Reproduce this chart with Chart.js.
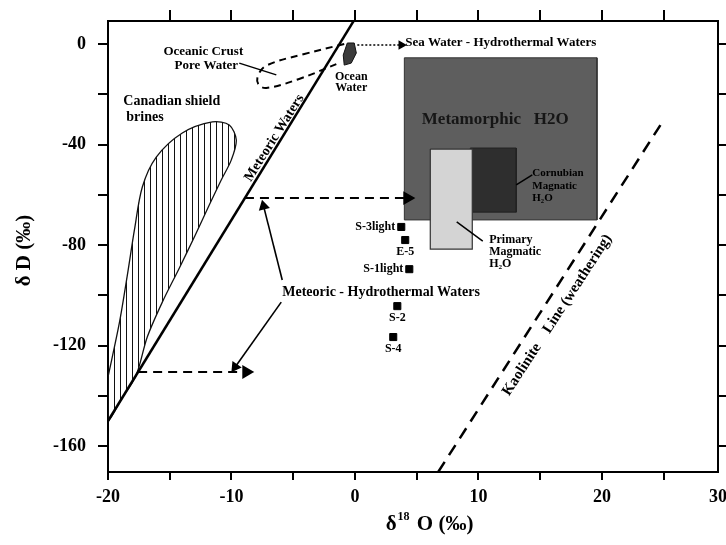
<!DOCTYPE html>
<html>
<head>
<meta charset="utf-8">
<script src="https://cdn.jsdelivr.net/npm/chart.js@4.4.1/dist/chart.umd.min.js"></script>
<style>
  html, body { margin: 0; padding: 0; background: #fff; }
</style>
</head>
<body>
<canvas id="iso" width="726" height="545"></canvas>
<script>
// axis ranges and ticks (δ18O on x, δD on y)
const X_MIN = -20, X_MAX = 29.4;
const Y_MIN = -170.3, Y_MAX = 9.15;
const X_TICKS = [-20, -15, -10, -5, 0, 5, 10, 15, 20, 25, 29.4];
const X_TOP_TICKS = [-15, -10, -5, 0, 5, 10, 15, 20, 25];
const Y_TICKS = [-160, -140, -120, -100, -80, -60, -40, -20, 0];

// samples
const SAMPLE_NAMES = ['S-3light', 'E-5', 'S-1light', 'S-2', 'S-4'];
const SAMPLE_O18 = [3.75, 4.07, 4.40, 3.43, 3.10];
const SAMPLE_DD = [-72.8, -78.0, -89.6, -104.3, -116.6];
const SAMPLE_LABEL_SIDE = ['left', 'below', 'left', 'below', 'below'];

// reference lines and fields, [δ18O, δD]
const METEORIC_LINE = [[-20, -150], [-0.1, 9.2]];
const KAOLINITE_LINE = [[6.74, -170.3], [24.9, -31]];
const BRINES = [
  [-20, -132.5], [-19.08, -111], [-18.43, -91.9], [-17.86, -74], [-17.22, -56.9],
  [-16.09, -45], [-13.98, -35.4], [-11.55, -31], [-10.18, -32.2], [-9.61, -38.2],
  [-10.02, -46.2], [-10.83, -54.1], [-11.8, -64.1], [-12.93, -76], [-14.23, -89.2],
  [-15.6, -102.7], [-16.82, -116.6], [-17.72, -131.8], [-18.9, -141.2], [-20, -150],
  [-20, -141], [-20, -132.5]
];
const PORE_WATER = [
  [-0.87, 0], [-4.1, -4], [-7.1, -8.4], [-7.83, -12.3], [-7.83, -15.9],
  [-7.18, -17.5], [-4.52, -13.9], [-1.51, -8]
];
const OCEAN_WATER = [
  [-0.62, 0.4], [-0.06, 0.4], [0.11, -3.6], [-0.3, -7.6], [-0.87, -8.4], [-0.95, -4.4], [-0.62, 0.4]
];
const METAMORPHIC = [[4, -5.5], [19.6, -70]];
const CORNUBIAN = [[9.34, -41.4], [13.06, -66.9]];
const PRIMARY = [[6.1, -41.8], [9.5, -81.6]];

// arrows and pointers
const SEA_ARROW = [[0.19, -0.4], [3.75, -0.4]];
const UPPER_ARROW = [[-8.91, -61.3], [4.24, -61.3]];
const LOWER_ARROW = [[-17.56, -130.5], [-8.8, -130.5]];
const POINTER_UP = [[-5.89, -93.9], [-7.4, -64.5]];
const POINTER_DOWN = [[-5.97, -102.7], [-9.7, -128.5]];
const PORE_POINTER = [[-9.37, -7.6], [-6.37, -12.3]];
const PRIMARY_POINTER = [[8.24, -70.8], [10.35, -78.4]];
const CORNUBIAN_POINTER = [[13.06, -56.1], [14.36, -52.1]];

const SERIF = "'Liberation Serif', 'DejaVu Serif', serif";

// text: [text, δ18O, δD, size, align, rotation]
const LABELS = [
  ['Oceanic Crust', -12.28, -3.2, 13, 'center', 0],
  ['Pore Water', -12.04, -8.8, 13, 'center', 0],
  ['Ocean', -0.3, -13.1, 12, 'center', 0],
  ['Water', -0.3, -17.5, 12, 'center', 0],
  ['Sea Water - Hydrothermal Waters', 4.07, 0.4, 13, 'left', 0],
  ['Canadian shield', -18.76, -22.7, 14, 'left', 0],
  ['brines', -18.52, -29.1, 14, 'left', 0],
  ['Meteoric Waters', -6.53, -37.4, 14, 'center', -57.7],
  ['Metamorphic   H2O', 11.36, -30.2, 17, 'center', 0],
  ['Cornubian', 14.36, -51.3, 11, 'left', 0],
  ['Magnatic', 14.36, -56.5, 11, 'left', 0],
  ['H\u2082O', 14.36, -61.3, 11, 'left', 0],
  ['Primary', 10.87, -78.0, 12, 'left', 0],
  ['Magmatic', 10.87, -82.8, 12, 'left', 0],
  ['H\u2082O', 10.87, -87.6, 12, 'left', 0],
  ['Meteoric - Hydrothermal Waters', -5.89, -98.7, 14, 'left', 0],
  ['Kaolinite    Line (weathering)', 16.38, -107.9, 15, 'center', -57]
];

const pts = arr => arr.map(([x, y]) => ({ x, y }));
const box = ([[x0, y0], [x1, y1]]) => [[x0, y0], [x1, y0], [x1, y1], [x0, y1], [x0, y0]];

function hatchPattern() {
  const c = document.createElement('canvas');
  c.width = 6; c.height = 6;
  const g = c.getContext('2d');
  g.strokeStyle = '#111';
  g.lineWidth = 1;
  g.beginPath(); g.moveTo(0.5, 0); g.lineTo(0.5, 6); g.stroke();
  return g.createPattern(c, 'repeat');
}

function arrow(data, rot, extra) {
  return Object.assign({
    data: pts(data),
    borderColor: '#000',
    borderWidth: 2,
    pointStyle: 'triangle',
    pointRadius: [0, 6],
    pointRotation: [0, rot],
    pointBackgroundColor: '#000',
    pointBorderColor: '#000',
    order: 2
  }, extra);
}

function plain(data, extra) {
  return Object.assign({ data: pts(data), borderColor: '#000', borderWidth: 1.5, order: 2 }, extra);
}

const labelPlugin = {
  id: 'isoLabels',
  afterDatasetsDraw(chart) {
    const { ctx, scales: { x, y } } = chart;
    ctx.save();
    ctx.fillStyle = '#000';
    ctx.textBaseline = 'middle';
    LABELS.forEach(([text, vx, vy, size, align, rot]) => {
      ctx.save();
      ctx.translate(x.getPixelForValue(vx), y.getPixelForValue(vy));
      ctx.rotate(rot * Math.PI / 180);
      ctx.font = `bold ${size}px ${SERIF}`;
      ctx.textAlign = align;
      ctx.fillStyle = text.startsWith('Metamorphic') ? '#161616' : '#000';
      ctx.fillText(text, 0, 0);
      ctx.restore();
    });
    ctx.font = `bold 12px ${SERIF}`;
    SAMPLE_NAMES.forEach((name, i) => {
      const px = x.getPixelForValue(SAMPLE_O18[i]);
      const py = y.getPixelForValue(SAMPLE_DD[i]);
      if (SAMPLE_LABEL_SIDE[i] === 'left') {
        ctx.textAlign = 'right';
        ctx.fillText(name, px - 6, py);
      } else {
        ctx.textAlign = 'center';
        ctx.fillText(name, px, py + 12);
      }
    });
    ctx.restore();
  },
  afterDraw(chart) {
    const { ctx, chartArea, scales: { x } } = chart;
    ctx.save();
    ctx.fillStyle = '#000';
    ctx.textBaseline = 'middle';
    // y title
    ctx.save();
    ctx.translate(25, (chartArea.top + chartArea.bottom) / 2 + 4);
    ctx.rotate(-Math.PI / 2);
    ctx.font = `bold 21px ${SERIF}`;
    ctx.textAlign = 'center';
    ctx.fillText('\u03b4 D (\u2030)', 0, 0);
    ctx.restore();
    // x title with superscript
    const big = `bold 21px ${SERIF}`, small = `bold 12px ${SERIF}`;
    ctx.font = big; const w1 = ctx.measureText('\u03b4').width; const w3 = ctx.measureText(' O (\u2030)').width;
    ctx.font = small; const w2 = ctx.measureText('18').width + 2;
    let sx = x.getPixelForValue(6) - (w1 + w2 + w3) / 2;
    const sy = chartArea.bottom + 53;
    ctx.textAlign = 'left';
    ctx.font = big; ctx.fillText('\u03b4', sx, sy); sx += w1 + 1;
    ctx.font = small; ctx.fillText('18', sx, sy - 8); sx += w2;
    ctx.font = big; ctx.fillText(' O (\u2030)', sx, sy);
    ctx.restore();
  }
};

const tickFont = { family: SERIF, size: 18, weight: 'bold' };
const border = { display: true, color: '#000', width: 2 };
const grid = len => ({ drawOnChartArea: false, drawTicks: true, tickLength: len, color: '#000', lineWidth: 2, tickWidth: 2 });

new Chart(document.getElementById('iso'), {
  type: 'line',
  data: {
    datasets: [
      // samples
      {
        data: SAMPLE_O18.map((v, i) => ({ x: v, y: SAMPLE_DD[i] })),
        showLine: false, pointStyle: 'rect', pointRadius: 5,
        pointBackgroundColor: '#000', pointBorderColor: '#000', order: 0
      },
      arrow(UPPER_ARROW, 90, { borderDash: [9, 6] }),
      arrow(LOWER_ARROW, 90, { borderDash: [9, 6] }),
      arrow(SEA_ARROW, 90, { borderDash: [2, 2], borderWidth: 1.5, pointRadius: [0, 4] }),
      arrow(POINTER_UP, -14, { borderWidth: 1.6, pointRadius: [0, 5] }),
      arrow(POINTER_DOWN, -144.5, { borderWidth: 1.6, pointRadius: [0, 5] }),
      plain(PORE_POINTER),
      plain(PRIMARY_POINTER),
      plain(CORNUBIAN_POINTER),
      plain(METEORIC_LINE, { borderWidth: 2.5, order: 3 }),
      plain(KAOLINITE_LINE, { borderWidth: 2.5, borderDash: [12, 8], order: 3 }),
      plain(OCEAN_WATER, { fill: 'shape', backgroundColor: '#3b3b3b', borderColor: '#111', borderWidth: 1, order: 4 }),
      plain(PORE_WATER, { borderDash: [7, 5], borderWidth: 2, tension: 0.4, order: 4 }),
      plain(BRINES, { fill: 'shape', backgroundColor: hatchPattern(), borderColor: '#111', borderWidth: 1.3, tension: 0.3, order: 5 }),
      plain(box(PRIMARY), { fill: 'shape', backgroundColor: '#d4d4d4', borderColor: '#333', borderWidth: 1.2, order: 6 }),
      plain(box(CORNUBIAN), { fill: 'shape', backgroundColor: '#2e2e2e', borderColor: '#222', borderWidth: 1, order: 7 }),
      plain(box(METAMORPHIC), { fill: 'shape', backgroundColor: '#5e5e5e', borderColor: '#333', borderWidth: 1, order: 8 })
    ]
  },
  options: {
    responsive: false,
    animation: false,
    layout: { padding: 0 },
    elements: { point: { radius: 0, hoverRadius: 0 }, line: { tension: 0 } },
    plugins: { legend: { display: false }, tooltip: { enabled: false } },
    scales: {
      x: {
        type: 'linear', position: 'bottom', min: X_MIN, max: X_MAX,
        afterBuildTicks: s => { s.ticks = X_TICKS.map(v => ({ value: v })); },
        afterFit: s => { s.height = 73; s.paddingLeft = 0; s.paddingRight = 0; },
        ticks: {
          autoSkip: false, maxRotation: 0, padding: 7, color: '#000', font: tickFont,
          callback: v => v === X_MAX ? '30' : (v % 10 === 0 ? String(v) : '')
        },
        grid: Object.assign(grid(8), {
          tickColor: c => (c.tick && c.tick.value === X_MAX) ? 'rgba(0,0,0,0)' : '#000'
        }),
        border
      },
      y: {
        type: 'linear', position: 'left', min: Y_MIN, max: Y_MAX,
        afterBuildTicks: s => { s.ticks = Y_TICKS.map(v => ({ value: v })); },
        afterFit: s => { s.width = 108; s.paddingTop = 0; s.paddingBottom = 0; },
        ticks: {
          autoSkip: false, padding: 12, color: '#000', font: tickFont,
          callback: v => v % 40 === 0 ? String(v) : ''
        },
        grid: grid(10),
        border
      },
      xTop: {
        type: 'linear', position: 'top', min: X_MIN, max: X_MAX,
        afterBuildTicks: s => { s.ticks = X_TOP_TICKS.map(v => ({ value: v })); },
        afterFit: s => { s.height = 21; s.paddingLeft = 0; s.paddingRight = 0; },
        ticks: { display: false },
        grid: grid(11),
        border
      },
      yRight: {
        type: 'linear', position: 'right', min: Y_MIN, max: Y_MAX,
        afterBuildTicks: s => { s.ticks = Y_TICKS.map(v => ({ value: v })); },
        afterFit: s => { s.width = 8; s.paddingTop = 0; s.paddingBottom = 0; },
        ticks: { display: false },
        grid: grid(8),
        border
      }
    }
  },
  plugins: [labelPlugin]
});
</script>
</body>
</html>
